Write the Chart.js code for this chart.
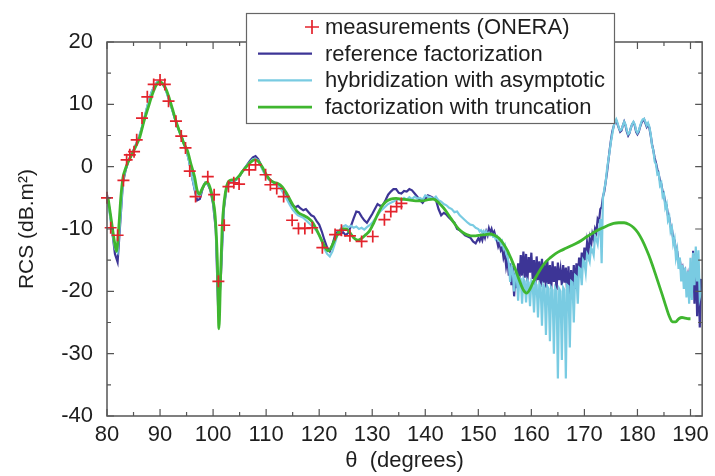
<!DOCTYPE html>
<html>
<head>
<meta charset="utf-8">
<script src="https://cdn.jsdelivr.net/npm/chart.js@4.4.0/dist/chart.umd.min.js"></script>
<style>
  html, body { margin: 0; padding: 0; background: #fff; }
  #wrap { width: 715px; height: 476px; position: relative; }
</style>
</head>
<body>
<div id="wrap"><canvas id="rcsChart"></canvas></div>
<script>
// Axis ticks
const xTickValues = [80, 90, 100, 110, 120, 130, 140, 150, 160, 170, 180, 190];
const yTickValues = [-40, -30, -20, -10, 0, 10, 20];

// Measurements (ONERA)
const measTheta = [80, 80.7, 82, 83.1, 83.7, 84.3, 85.1, 85.6, 86.6, 87.6, 88.8, 90, 90.9, 91.6, 93, 94,
  94.8, 95.6, 96.7, 99, 100.2, 101, 102.1, 102.9, 103.9, 104.9, 106.8, 108, 109.9, 110.8, 112, 113.3,
  114.9, 116.1, 117.3, 118.7, 120.6, 123, 124.2, 125.8, 128, 130.1, 132.3, 133.5, 134.6, 135.5];
const measRcs = [-5, -9.8, -11, -2.2, 1.1, 1.9, 2.4, 4.3, 7.8, 11.2, 13.2, 13.9, 13.2, 10.5, 7.3, 4.9,
  3, -0.7, -4.8, -1.6, -4.5, -18.4, -9.4, -3.2, -2.6, -2.8, -0.5, 0.3, -1.3, -2.9, -3.5, -4.8,
  -8.6, -9.9, -9.9, -9.8, -13, -10.9, -10.2, -11.1, -12, -11.2, -8.5, -7.2, -6.4, -5.9];

// reference factorization: 80..149.5 every 0.5, then 150..192 every 0.25
const refCoarse = [
  -4.5, -7, -10.5, -14, -15.3, -9, -2.6, -0.6, 0.8, 1.7,
  2.6, 3.6, 4.6, 6, 7.6, 9.3, 10.9, 12.1, 13, 13.6,
  13.7, 13.3, 12.6, 11.3, 10, 8.6, 7.2, 6, 5, 3.7,
  2.6, 0.8, -1.5, -3.6, -5.4, -5.2, -3.6, -2.6, -2.8, -3.8,
  -6, -10, -24, -17, -7, -3.6, -2.6, -2.4, -2.3, -2,
  -1.5, -0.8, -0.2, 0.4, 1, 1.5, 1.7, 1.2, 0.3, -0.6,
  -1.3, -1.9, -2.3, -2.6, -2.8, -3.2, -3.6, -4.3, -5.1, -5.8,
  -6.2, -6.5, -6.3, -6.7, -7, -6.8, -7.3, -7.8, -8, -8.7,
  -9.3, -10.4, -11.8, -13, -13.6, -12.5, -11, -10.4, -10.8, -10.5,
  -11, -10.6, -9.5, -8.3, -7.2, -7.3, -8, -8.6, -9, -8.3,
  -7.6, -6.8, -6, -6.3, -6.2, -5.4, -4.5, -4, -3.6, -3.6,
  -4.2, -4.3, -3.9, -4, -3.6, -3.8, -4.3, -4.8, -5.4, -5.8,
  -5.2, -4.6, -4.8, -5, -5.3, -6.8, -7.8, -7.4, -7.7, -8.2,
  -8.6, -9, -10, -10.2, -10.6, -11, -11.2, -11.4, -12, -12.3
];
const refFine = [
  -11.5, -11.9, -11.2, -11.8,
  -10.8, -11.4, -10.4, -11,
  -9.9, -10.6, -10, -10.8,
  -10.4, -11.2, -11.8, -12.8,
  -12.2, -13.4, -13, -14.6,
  -13.8, -16, -14.8, -17.5,
  -15.5, -19, -16, -20.8,
  -17, -19.5, -15.5, -18.2,
  -14.2, -17.5, -13.6, -17.8,
  -14, -18.4, -14.5, -17,
  -13.8, -18, -15, -19,
  -14.4, -18.2, -15.2, -19.3,
  -14.8, -18.6, -15.6, -19.4,
  -15, -18.8, -15.8, -19.6,
  -15.2, -18.5, -16, -19.8,
  -15.4, -18.2, -16.5, -19,
  -15.8, -18.6, -16.2, -20.2,
  -16, -21, -16.6, -20.4,
  -15.8, -19.6, -15.5, -18.4,
  -14.6, -17.2, -13.8, -16,
  -13, -15, -12.2, -13.8,
  -11.6, -12.8, -10.8, -11.6,
  -10, -10.6, -8.4, -8.8,
  -6.8, -6.5, -4.8, -4,
  -2.5, -1, 0.8, 2.6,
  4.2, 5.6, 6.4, 7.2,
  7.4, 6.8, 6.2, 5.6,
  5.8, 6.6, 7.2, 6.6,
  5.6, 5, 5.4, 6.2,
  6.8, 7.1, 6.6, 5.6,
  5.2, 5.6, 6.4, 7,
  7.4, 7.6, 7, 6.4,
  6.8, 6.2, 5, 3.6,
  2.6, 1.4, 0.6, -0.4,
  -1.2, -2.2, -2.8, -4,
  -4.6, -5.8, -6.2, -7.8,
  -8.2, -9.6, -10, -11.6,
  -11.8, -13.4, -13.6, -15.2,
  -15, -16.8, -16.2, -18,
  -17, -19, -17.6, -20,
  -17, -21, -13.5, -22,
  -14, -24, -16, -25.8,
  -18
];

// hybridization with asymptotic: same sampling as the reference
const hybCoarse = [
  -4.8, -7.5, -10.5, -13.2, -13.8, -8.5, -2.3, -0.4, 0.9, 1.8,
  2.7, 3.7, 4.7, 6.1, 7.7, 9.4, 11, 12.2, 13.1, 13.6,
  13.6, 13.2, 12.5, 11.2, 9.9, 8.5, 7.1, 5.9, 4.8, 3.6,
  2.5, 0.8, -1.5, -3.4, -4.8, -4.7, -3.4, -2.6, -2.7, -3.6,
  -5.6, -9.5, -22, -16, -6.5, -3.4, -2.5, -2.3, -2.2, -2,
  -1.5, -0.8, -0.2, 0.3, 0.8, 1.2, 1.3, 1, 0.1, -0.8,
  -1.6, -2.1, -2.4, -2.6, -2.8, -3.3, -3.9, -4.6, -5.4, -6.2,
  -6.9, -7.4, -7.8, -8, -8.2, -8.6, -9, -9.4, -9.8, -10.3,
  -11, -12, -13.2, -14, -14.4, -13.6, -12.2, -10.8, -10, -9.6,
  -9.4, -9.7, -9.5, -9.8, -9.6, -10, -9.8, -10.1, -9.7, -9.4,
  -9, -8.4, -7.8, -7.2, -6.8, -6.4, -6, -5.8, -5.6, -5.4,
  -5.2, -5.4, -5, -5.3, -4.9, -5.2, -4.8, -5.1, -5, -5.3,
  -4.6, -4.8, -4.9, -5.2, -4.8, -5.4, -5.6, -6, -6.2, -6.6,
  -6.8, -7.3, -7.2, -7.8, -8.2, -8.6, -9, -9.3, -9.4, -9.8
];
const hybFine = [
  -10, -10.4, -10.2, -10.6,
  -10.3, -10.8, -10.4, -10.9,
  -10.6, -11, -10.8, -11.2,
  -11, -11.6, -11.2, -11.8,
  -11.6, -12.4, -12, -13,
  -12.6, -14, -14.5, -15.5,
  -18.5, -16, -16.8, -20,
  -17, -17.5, -21.5, -17.8,
  -18, -22, -18, -18.4,
  -21.8, -18.2, -18.6, -22.4,
  -18.4, -18.8, -23.4, -18.6,
  -19, -24.2, -18.8, -19.2,
  -25.5, -19, -19.4, -27,
  -19.2, -19.6, -28, -19.4,
  -19.8, -30, -19.5, -20,
  -34, -19.6, -20, -31,
  -19.4, -19.8, -34, -19,
  -19.2, -29, -18.4, -18.6,
  -25, -17.4, -17.6, -22,
  -16.2, -16.4, -19, -15,
  -15.4, -17, -14, -14.4,
  -15.2, -13, -13.4, -14.2,
  -11.2, -11.6, -12.4, -10.2,
  -8.4, -15.5, -5, -3.6,
  -2.5, -0.5, 1, 2.4,
  4, 5.2, 6.4, 7.2,
  7.6, 7, 6.2, 5.8,
  6, 6.6, 7.2, 6.8,
  5.8, 5.2, 5.4, 6.2,
  6.8, 7.2, 6.8, 5.8,
  5.4, 5.8, 6.5, 7.2,
  7.6, 7.7, 7.2, 6.6,
  7, 6.4, 5.2, 3.4,
  2.6, 0.8, 0.4, -1.2,
  -1, -3, -2.6, -4.8,
  -4.4, -6.6, -6, -8.6,
  -8, -10.4, -9.8, -12.4,
  -11.6, -14.6, -13.4, -16.4,
  -14.6, -18.4, -15.8, -19.6,
  -16.2, -21, -16.8, -22,
  -14.6, -21.4, -13.8, -19,
  -12.8, -18.4, -13.4, -21,
  -20
];

// factorization with truncation (smooth)
const truncTheta = [80.2, 80.8, 81.4, 81.8, 82.2, 82.6, 83, 83.5, 84, 84.6, 85.4, 86.2, 87, 87.7, 88.5,
  89.3, 89.9, 90.5, 91.2, 91.8, 92.4, 93, 93.7, 94.5, 95.2, 95.8, 96.5, 97, 97.4, 97.9, 98.4, 98.9,
  99.4, 99.9, 100.4, 100.8, 101.1, 101.4, 101.7, 102.1, 102.6, 103, 103.7, 104.3, 104.9, 105.5, 106.5,
  107.2, 107.8, 108.6, 109.3, 109.9, 110.6, 111.4, 112.2, 113, 113.8, 114.5, 115.3, 116.1, 117, 118,
  118.8, 119.5, 120.3, 121.1, 121.7, 122.3, 123, 123.8, 124.5, 125.1, 125.8, 126.5, 127.3, 128, 128.8,
  129.5, 130.3, 131, 131.8, 132.6, 133.5, 134.5, 135.5, 136.5, 137.5, 138.5, 139.5, 140.5, 141.5,
  142.3, 143, 143.8, 144.6, 145.4, 146.2, 147, 147.8, 148.6, 149.5, 150.4, 151.3, 152.2, 153, 153.8,
  154.6, 155.4, 156.2, 157, 157.8, 158.5, 159.1, 159.7, 160.4, 161.2, 162, 162.8, 163.6, 164.5, 165.5,
  166.5, 167.5, 168.5, 169.5, 170.5, 171.5, 172.5, 173.5, 174.5, 175.5, 176.5, 177.5, 178.5, 179.3,
  180.1, 180.9, 181.7, 182.5, 183.3, 184, 184.7, 185.4, 186, 186.6, 187.2, 187.8, 188.4, 189, 189.6, 190];
const truncRcs = [-5, -8.5, -12, -13.6, -10, -5, -1.8, -0.3, 0.8, 1.8, 3.2, 4.8, 7.4, 9.3, 11.5,
  13.1, 13.6, 13.3, 12.3, 10.8, 9.1, 7.3, 5.6, 3.7, 2.5, 0.5, -1.6, -3.8, -4.4, -3.6, -2.8, -2.5,
  -3.3, -5, -8, -15, -26, -18, -10, -5.5, -3, -2.3, -2.1, -2, -1.5, -0.8, 0.2,
  0.8, 1.1, 0.8, -0.1, -1.1, -2, -2.5, -2.7, -3.2, -4.2, -5.3, -6.5, -7.4, -7.8, -8.3,
  -9, -10.1, -11.5, -12.9, -13.5, -12.9, -11.6, -10.4, -10, -10, -10.6, -11.4, -11.8, -11.5, -10.9,
  -10.3, -9, -7.7, -6.4, -5.6, -5.2, -5.1, -5.2, -5.3, -5.4, -5.5, -5.5, -5.3, -5.2,
  -5.6, -6.2, -7, -8, -9, -9.9, -10.5, -10.9, -11.1, -11.1, -11, -10.9, -10.8, -11, -11.4,
  -12.2, -13.3, -14.8, -16.5, -18.4, -19.8, -20.3, -19.7, -18.4, -17.2, -16.1, -15.2, -14.6, -14, -13.5,
  -13.1, -12.7, -12.3, -11.8, -11.2, -10.7, -10.2, -9.8, -9.4, -9.1, -9, -9, -9.3, -9.8,
  -10.6, -11.8, -13.3, -15, -17, -18.8, -20.6, -22.5, -24, -24.9, -24.9, -24.4, -24.2, -24.3, -24.4, -24.4];

// angles for the sampled curves
function sampleAngles(start, step, count) {
  const out = [];
  for (let i = 0; i < count; i++) out.push(+(start + i * step).toFixed(2));
  return out;
}
function toPoints(xs, ys) {
  return ys.map((y, i) => ({ x: xs[i], y: y }));
}
const coarseAngles = sampleAngles(80, 0.5, refCoarse.length);
const fineAngles = sampleAngles(150, 0.25, refFine.length);

const refPoints = toPoints(coarseAngles, refCoarse).concat(toPoints(fineAngles, refFine));
const hybPoints = toPoints(coarseAngles, hybCoarse).concat(toPoints(fineAngles, hybFine));
const truncPoints = toPoints(truncTheta, truncRcs);
const measPoints = toPoints(measTheta, measRcs);

const FONT = '"Liberation Sans", Arial, Helvetica, sans-serif';
const TEXT = '#1e1e1e';

// cadre + graduations vers l'intérieur, sur les 4 côtés
const frameTicks = {
  id: 'frameTicks',
  afterDatasetsDraw(chart) {
    const { ctx, chartArea: a, scales: { x, y } } = chart;
    ctx.save();
    ctx.strokeStyle = '#555';
    ctx.lineWidth = 1.5;
    ctx.strokeRect(a.left, a.top, a.right - a.left, a.bottom - a.top);
    ctx.lineWidth = 1.2;
    ctx.beginPath();
    xTickValues.forEach(v => {
      [[v, 7], [v + 5, 4]].forEach(([t, len]) => {
        const px = x.getPixelForValue(t);
        if (px > a.right - 1) return;
        ctx.moveTo(px, a.bottom); ctx.lineTo(px, a.bottom - len);
        ctx.moveTo(px, a.top); ctx.lineTo(px, a.top + len);
      });
    });
    yTickValues.forEach(v => {
      [[v, 7], [v + 5, 4]].forEach(([t, len]) => {
        if (t > 20) return;
        const py = y.getPixelForValue(t);
        ctx.moveTo(a.left, py); ctx.lineTo(a.left + len, py);
        ctx.moveTo(a.right, py); ctx.lineTo(a.right - len, py);
      });
    });
    ctx.stroke();
    ctx.restore();
  }
};

// légende encadrée qui chevauche le haut du graphe
const boxLegend = {
  id: 'boxLegend',
  afterDraw(chart) {
    const ctx = chart.ctx;
    const box = { left: 246, top: 13, width: 368, height: 110 };
    ctx.save();
    ctx.fillStyle = '#fff';
    ctx.fillRect(box.left, box.top, box.width, box.height);
    ctx.strokeStyle = '#666';
    ctx.lineWidth = 1.2;
    ctx.strokeRect(box.left + 0.5, box.top + 0.5, box.width, box.height);
    ctx.font = '22px ' + FONT;
    ctx.textBaseline = 'middle';
    chart.data.datasets.forEach((ds, i) => {
      const yy = box.top + 14 + i * 26.7;
      ctx.strokeStyle = ds.borderColor;
      ctx.beginPath();
      if (ds.showLine === false) {
        ctx.lineWidth = 1.7;
        ctx.moveTo(305, yy); ctx.lineTo(319, yy);
        ctx.moveTo(312, yy - 7); ctx.lineTo(312, yy + 7);
      } else {
        ctx.lineWidth = ds.borderWidth;
        ctx.moveTo(258, yy); ctx.lineTo(312, yy);
      }
      ctx.stroke();
      ctx.fillStyle = TEXT;
      ctx.fillText(ds.label, 325, yy + 1);
    });
    ctx.restore();
  }
};

new Chart(document.getElementById('rcsChart'), {
  type: 'line',
  data: {
    datasets: [
      {
        label: 'measurements (ONERA)',
        data: measPoints,
        showLine: false,
        pointStyle: 'cross',
        pointRadius: 6,
        pointBorderWidth: 1.7,
        borderColor: '#e3232c',
        backgroundColor: '#e3232c',
        clip: false,
        order: 0
      },
      {
        label: 'reference factorization',
        data: refPoints,
        borderColor: '#3d3596',
        borderWidth: 2.2,
        pointRadius: 0,
        tension: 0,
        order: 3
      },
      {
        label: 'hybridization with asymptotic',
        data: hybPoints,
        borderColor: '#79cbe2',
        borderWidth: 2.2,
        pointRadius: 0,
        tension: 0,
        order: 2
      },
      {
        label: 'factorization with truncation',
        data: truncPoints,
        borderColor: '#3fb62f',
        borderWidth: 2.8,
        pointRadius: 0,
        cubicInterpolationMode: 'monotone',
        order: 1
      }
    ]
  },
  options: {
    responsive: true,
    maintainAspectRatio: false,
    animation: false,
    layout: { padding: { left: 0, top: 42, right: 8, bottom: 0 } },
    plugins: {
      legend: { display: false },
      tooltip: { enabled: false }
    },
    scales: {
      x: {
        type: 'linear',
        min: 80,
        max: 192.2,
        afterBuildTicks: s => { s.ticks = xTickValues.map(v => ({ value: v })); },
        afterFit: s => { s.height = 60; },
        grid: { display: false, drawTicks: false },
        border: { display: false },
        ticks: { color: TEXT, font: { size: 22, family: FONT }, padding: 6, maxRotation: 0 },
        title: { display: true, text: 'θ  (degrees)', color: TEXT, font: { size: 22, family: FONT }, padding: { bottom: 2 } }
      },
      y: {
        min: -40,
        max: 20,
        afterBuildTicks: s => { s.ticks = yTickValues.map(v => ({ value: v })); },
        afterFit: s => { s.width = 107; },
        grid: { display: false, drawTicks: false },
        border: { display: false },
        ticks: { color: TEXT, font: { size: 22, family: FONT }, padding: 14 },
        title: { display: true, text: 'RCS (dB.m²)', color: TEXT, font: { size: 21, family: FONT }, padding: { top: 15 } }
      }
    }
  },
  plugins: [frameTicks, boxLegend]
});
</script>
</body>
</html>
